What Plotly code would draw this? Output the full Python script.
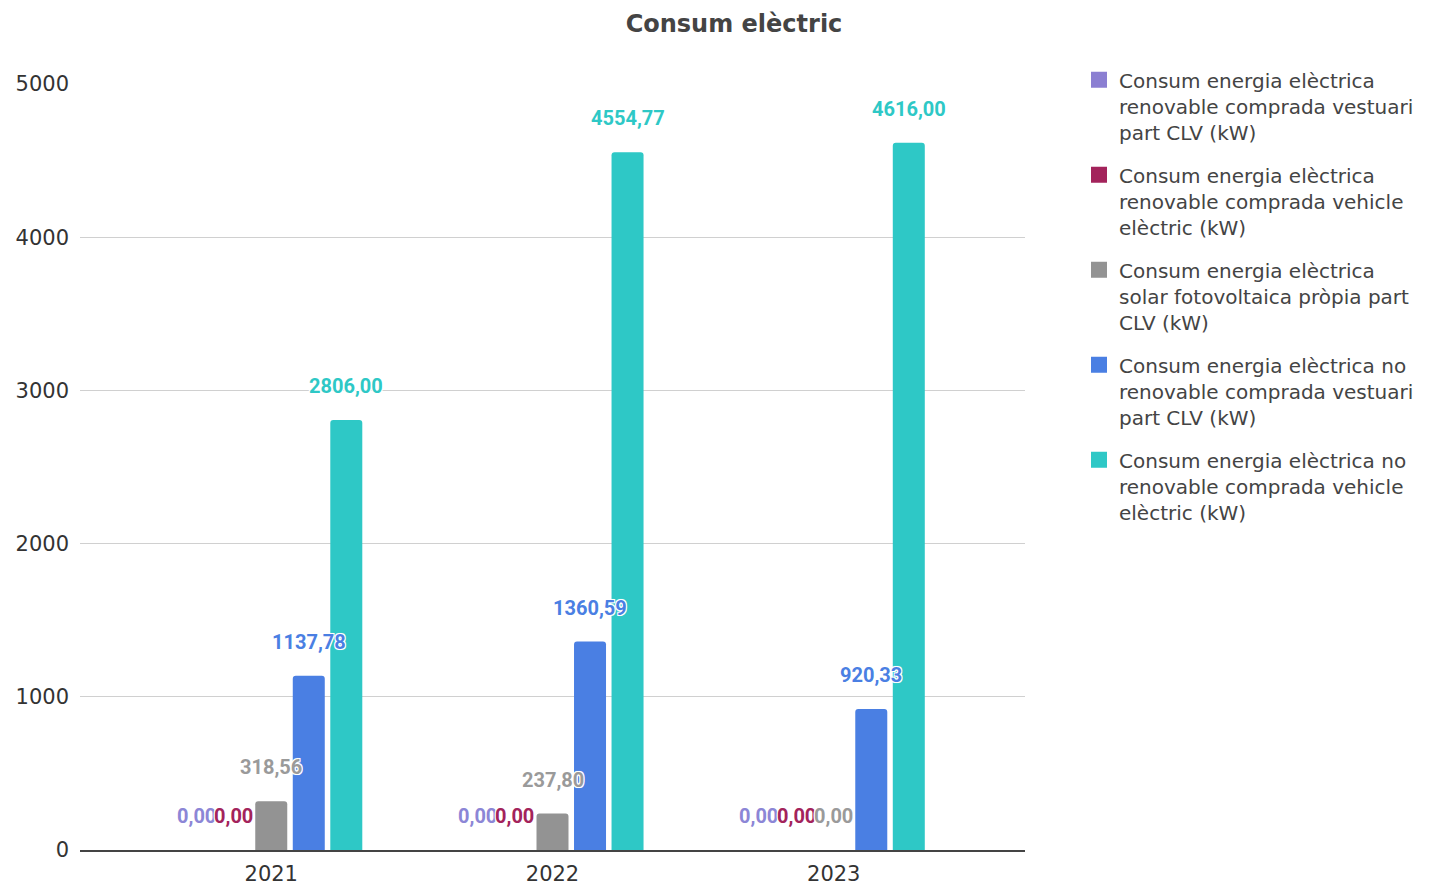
import plotly.graph_objects as go

years = ["2021", "2022", "2023"]
series_names = [
    "Consum energia elèctrica<br>renovable comprada vestuari<br>part CLV (kW)",
    "Consum energia elèctrica<br>renovable comprada vehicle<br>elèctric (kW)",
    "Consum energia elèctrica<br>solar fotovoltaica pròpia part<br>CLV (kW)",
    "Consum energia elèctrica no<br>renovable comprada vestuari<br>part CLV (kW)",
    "Consum energia elèctrica no<br>renovable comprada vehicle<br>elèctric (kW)",
]
renov_vestuari = [0.00, 0.00, 0.00]
renov_vehicle = [0.00, 0.00, 0.00]
solar_clv = [318.56, 237.80, 0.00]
norenov_vestuari = [1137.78, 1360.59, 920.33]
norenov_vehicle = [2806.00, 4554.77, 4616.00]
series_values = [renov_vestuari, renov_vehicle, solar_clv, norenov_vestuari, norenov_vehicle]

bar_colors = ["#8b7fd2", "#a3235b", "#939393", "#4a7fe3", "#2ec8c6"]
label_colors = ["#8c86d6", "#a3235b", "#9a9a9a", "#4a7fe3", "#2ec8c6"]

xs = list(range(len(years)))
bargap = 0.333
bargroupgap = 0.147
slot = (1 - bargap) / len(series_values)

fig = go.Figure()
for k, (name, vals) in enumerate(zip(series_names, series_values)):
    fig.add_trace(go.Bar(
        x=xs, y=vals, name=name, marker_color=bar_colors[k],
        marker_line_width=0, showlegend=False, hoverinfo="y",
    ))
    # legend proxy with large square marker
    fig.add_trace(go.Scatter(
        x=[None], y=[None], mode="markers", name=name, legendgroup=f"g{k}",
        marker=dict(symbol="square", size=22, color=bar_colors[k]),
        showlegend=True,
    ))

def fmt(v):
    return f"{v:.2f}".replace(".", ",")

halo = "-1px -1px 0 #fff, 1px -1px 0 #fff, -1px 1px 0 #fff, 1px 1px 0 #fff, 0 0 2px #fff"
for i in xs:
    for k, vals in enumerate(series_values):
        fig.add_annotation(
            x=i + (k - (len(series_values) - 1) / 2) * slot, y=vals[i],
            xref="x", yref="y", text=fmt(vals[i]), showarrow=False,
            yanchor="middle", yshift=34,
            font=dict(family="Roboto, Arial, sans-serif", size=20,
                      color=label_colors[k], weight="bold", shadow=halo),
        )

fig.update_layout(
    width=1442, height=885,
    barmode="group", bargap=bargap, bargroupgap=bargroupgap,
    barcornerradius=3,
    paper_bgcolor="white", plot_bgcolor="white",
    margin=dict(l=80, r=417, t=84, b=35),
    title=dict(text="<b>Consum elèctric</b>", x=734 / 1442, xref="container",
               xanchor="center", y=1 - 24 / 885, yanchor="middle", yref="container",
               font=dict(family="DejaVu Sans, Arial, sans-serif", size=24, color="#444")),
    font=dict(family="DejaVu Sans, Arial, sans-serif", color="#333"),
    xaxis=dict(
        tickvals=xs, ticktext=years, range=[-0.68, 2.68], automargin=False,
        showgrid=False, zeroline=False, showline=True, linecolor="#444", linewidth=2,
        ticks="", tickfont=dict(size=21, color="#333"), ticklabelstandoff=4,
    ),
    yaxis=dict(
        range=[0, 5000], tickvals=[0, 1000, 2000, 3000, 4000, 5000], automargin=False,
        showgrid=True, gridcolor="#d0d0d0", gridwidth=1, zeroline=False,
        showline=False, ticks="", tickfont=dict(size=21, color="#333"),
        ticklabelstandoff=10,
    ),
    legend=dict(
        x=(1079 - 80) / 945, xanchor="left", y=1.031, yanchor="top", valign="top",
        font=dict(family="DejaVu Sans, Arial, sans-serif", size=20, color="#444"),
        tracegroupgap=14, itemsizing="trace", bgcolor="rgba(0,0,0,0)",
        maxheight=850,
    ),
    showlegend=True,
)

fig.write_html("out.html")
